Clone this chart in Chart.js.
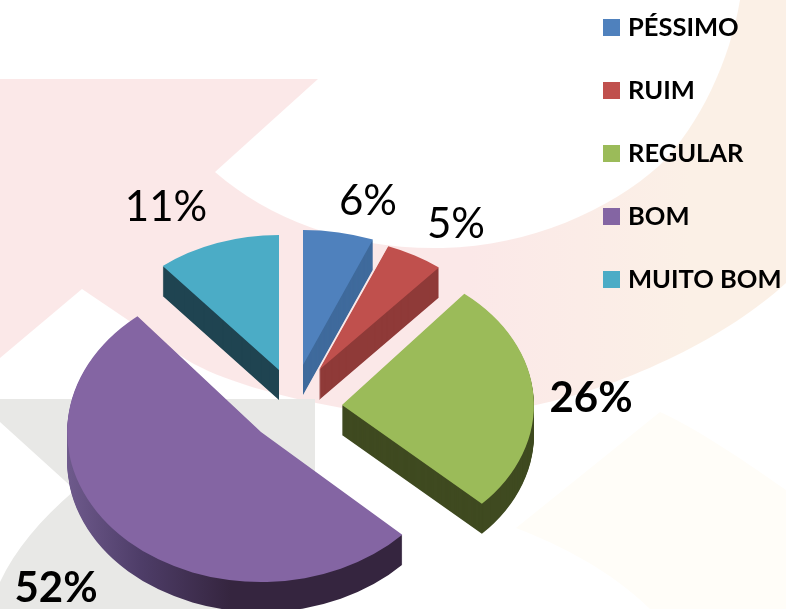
<!DOCTYPE html>
<html>
<head>
<meta charset="utf-8">
<title>Avaliação</title>
<style>
  html, body { margin: 0; padding: 0; background: #fff; }
  canvas { display: block; }
</style>
</head>
<body>
<canvas id="pie" width="786" height="609"></canvas>
<script src="https://cdn.jsdelivr.net/npm/chart.js@4/dist/chart.umd.min.js"></script>
<script>
// data
const categories = ["PÉSSIMO", "RUIM", "REGULAR", "BOM", "MUITO BOM"];
const percents = [6, 5, 26, 52, 11];

// colours
const faceColors = ["#4f81bd", "#c0504d", "#9bbb59", "#8465a3", "#4bacc6"];
const sideColors = ["#3f6a9c", "#8f3a38", "#3f4a20", "#35253f", "#1f4451"];

// fake 3D look: how far each slice is pulled out, and its foreshortening
const centerX = 300, centerY = 398, pieRadius = 190, pieDepth = 30;
const explodeX = [3, 19, 42, -39, -21];
const explodeY = [-33, -28, 7, 34, -28];
const stretchX = [1.0, 0.99, 1.01, 1.02, 0.96];
const stretchY = [0.71, 0.7, 0.76, 0.79, 0.71];

// percent labels
const labelX = [368, 456, 591, 56, 166];
const labelY = [215, 238, 412, 602, 221];
const labelBold = [false, false, true, true, false];

const FONT = "Lato, 'Open Sans', sans-serif";

// watermark behind the chart
function drawBackground(ctx) {
    const band = ctx.createLinearGradient(470, 0, 690, 0);
    band.addColorStop(0, "#fbe8e8");
    band.addColorStop(1, "#fbf0e6");
    ctx.fillStyle = band;
    ctx.beginPath();
    ctx.moveTo(0, 79);
    ctx.lineTo(318, 79);
    ctx.lineTo(215, 172);
    ctx.bezierCurveTo(270, 220, 350, 250, 443, 248);
    ctx.bezierCurveTo(530, 246, 610, 210, 660, 165);
    ctx.bezierCurveTo(700, 125, 730, 60, 740, 0);
    ctx.lineTo(786, 0);
    ctx.lineTo(786, 283);
    ctx.bezierCurveTo(730, 335, 630, 385, 536, 405);
    ctx.bezierCurveTo(470, 418, 400, 418, 342, 408);
    ctx.bezierCurveTo(280, 397, 220, 380, 187, 360);
    ctx.lineTo(82, 289);
    ctx.lineTo(0, 358);
    ctx.closePath();
    ctx.fill();

    ctx.fillStyle = "#e8e8e6";
    ctx.beginPath();
    ctx.moveTo(0, 399);
    ctx.lineTo(315, 399);
    ctx.lineTo(315, 500);
    ctx.lineTo(270, 609);
    ctx.lineTo(0, 609);
    ctx.lineTo(0, 582);
    ctx.bezierCurveTo(15, 550, 40, 520, 75, 490);
    ctx.lineTo(0, 422);
    ctx.closePath();
    ctx.fill();

    ctx.fillStyle = "#fffdf8";
    ctx.beginPath();
    ctx.moveTo(516, 528);
    ctx.lineTo(660, 412);
    ctx.bezierCurveTo(700, 430, 750, 465, 786, 490);
    ctx.lineTo(786, 609);
    ctx.lineTo(650, 609);
    ctx.bezierCurveTo(610, 570, 560, 545, 516, 528);
    ctx.closePath();
    ctx.fill();
}

const pie3dPlugin = {
    id: "pie3d",
    beforeDraw(chart) {
        drawBackground(chart.ctx);
    },
    // slices are drawn here, the default flat drawing is cancelled
    beforeDatasetsDraw(chart) {
        const ctx = chart.ctx;
        const arcs = chart.getDatasetMeta(0).data;
        [4, 0, 1, 2, 3].forEach(i => {
            const arc = arcs[i];
            const baseOptions = arc.options;
            let side = sideColors[i];
            if (categories[i] === "BOM") {
                // the round wall of the big slice gets darker towards the front
                side = ctx.createLinearGradient(arc.x - pieRadius, 0, arc.x - 30, 0);
                side.addColorStop(0, "#6e5a8c");
                side.addColorStop(0.45, "#4e3d68");
                side.addColorStop(1, sideColors[i]);
            }
            arc.options = Object.create(baseOptions, { backgroundColor: { value: side } });
            for (let d = pieDepth; d > 0; d--) {
                drawSlice(ctx, arc, i, d);
            }
            arc.options = baseOptions;
            drawSlice(ctx, arc, i, 0);
        });
        return false;
    },
    afterDraw(chart) {
        const ctx = chart.ctx;
        ctx.save();
        ctx.fillStyle = "#000";
        ctx.textBaseline = "alphabetic";

        ctx.textAlign = "center";
        percents.forEach((p, i) => {
            ctx.font = (labelBold[i] ? "bold " : "") + "42px " + FONT;
            ctx.fillText(p + "%", labelX[i], labelY[i]);
        });

        // legend
        ctx.textAlign = "left";
        ctx.font = "bold 25.5px " + FONT;
        categories.forEach((name, i) => {
            const y = 19 + i * 63;
            ctx.fillStyle = faceColors[i];
            ctx.fillRect(603, y, 17, 17);
            ctx.fillStyle = "#000";
            ctx.fillText(name, 628, y + 17);
        });
        ctx.restore();
    }
};

function drawSlice(ctx, arc, i, depth) {
    ctx.save();
    ctx.translate(centerX + explodeX[i], centerY + explodeY[i] + depth);
    ctx.scale(stretchX[i], stretchY[i]);
    ctx.translate(-arc.x, -arc.y);
    arc.draw(ctx);
    ctx.restore();
}

new Chart(document.getElementById("pie").getContext("2d"), {
    type: "pie",
    data: {
        labels: categories,
        datasets: [{
            data: percents,
            backgroundColor: faceColors,
            borderWidth: 0,
            radius: pieRadius
        }]
    },
    options: {
        responsive: false,
        animation: false,
        events: [],
        plugins: {
            legend: { display: false },
            tooltip: { enabled: false }
        }
    },
    plugins: [pie3dPlugin]
});
</script>
</body>
</html>
